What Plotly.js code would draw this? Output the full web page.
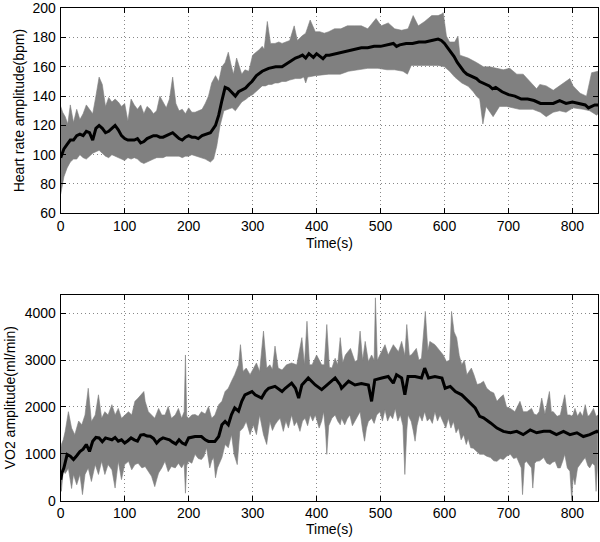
<!DOCTYPE html>
<html><head><meta charset="utf-8">
<script src="https://cdn.plot.ly/plotly-3.0.1.min.js"></script>
<style>html,body{margin:0;padding:0;background:#fff}#chart{width:600px;height:542px}</style>
</head><body><div id="chart"></div>
<script>
// ---- Heart rate (bpm): [time s, value]
var hrMean = [[0,98],[5,104],[10,107],[15,110],[20,110],[25,113],[30,114],[35,113],[40,116],[45,115],[50,110],[55,118],[60,120],[65,118],[70,115],[75,116],[80,118],[85,120],[90,117],[95,113],[100,111],[105,110],[110,110],[115,110],[120,111],[125,108],[130,109],[135,111],[140,112],[145,113],[150,113],[155,112],[160,112],[165,113],[170,114],[175,115],[180,113],[185,111],[190,110],[195,112],[200,113],[205,112],[210,112],[215,111],[221,113],[228,114],[234,115],[242,120],[247,127],[252,137],[257,146],[262,145],[268,142],[273,140],[278,143],[283,144],[289,145.5],[294,148],[299,150],[306,154],[315,157],[325,159],[336,160],[346,160],[357,163],[367,166],[373,167],[378,168],[383,166],[388,169],[395,166.5],[400,169],[410,165.6],[415,168],[420,168],[430,169],[440,170],[450,171],[460,172],[470,173],[480,173],[490,174],[500,174],[510,175],[520,176],[525,174],[530,175],[540,176],[550,176],[560,177],[570,177],[580,178],[590,179],[595,178],[600,176],[605,173],[610,170],[615,167],[620,163],[625,160],[630,157],[635,155],[640,154],[650,152],[655,150],[660,149],[670,147],[675,145],[680,146],[690,143],[700,141],[710,140],[720,138],[730,138],[740,137],[750,135],[760,135],[770,135],[780,137],[790,135],[800,136],[810,135],[820,134],[825,132],[830,133],[835,134],[840,134]];
var hrUpper = [[0,133],[3,129],[7,126],[11,121],[15,134],[20,122],[25,131],[30,124],[35,128],[40,134],[45,131],[50,128],[55,140],[60,153],[65,148],[70,133],[75,139],[80,136],[85,138],[90,136],[95,133],[100,135],[105,123],[110,138],[115,134],[120,131],[125,134],[130,128],[135,133],[140,131],[145,128],[150,130],[155,140],[160,136],[165,132],[170,138],[175,153],[180,135],[185,130],[190,131],[195,128],[200,132],[205,129],[210,129],[215,130],[221,131],[226,135],[231,140],[236,149],[242,154],[247,150],[252,160],[257,163],[262,170],[266,162],[270,155],[275,166],[280,160],[283,155],[288,158],[294,157],[300,168],[306,170],[311,172],[315,174],[318,172],[323,191],[328,176],[335,176],[341,177],[346,176],[352,177],[358,178],[365,188],[370,178],[377,181],[383,183],[390,192],[398,184],[405,184],[412,183],[419,184],[428,186],[438,186],[448,188],[459,188],[470,188],[480,186],[493,193],[501,188],[512,190],[522,186],[533,185],[543,186],[551,195],[559,188],[569,191],[580,195],[590,195],[595,196],[598,197],[603,181],[608,177],[616,177],[621,181],[624,168],[637,166],[650,163],[661,160],[671,160],[681,159],[692,158],[702,159],[713,155],[723,155],[734,150],[744,145],[749,148],[759,147],[770,144],[780,147],[791,150],[796,152],[801,147],[812,142],[822,140],[830,156],[840,157]];
var hrLower = [[0,73],[5,85],[10,91],[15,95],[20,97],[25,97],[30,100],[35,98],[40,97],[45,99],[50,101],[55,102],[60,103],[65,101],[70,99],[75,98],[80,100],[85,99],[90,98],[95,97],[100,96],[105,98],[110,97],[115,98],[120,97],[125,95],[130,94],[135,95],[140,96],[145,97],[150,98],[155,98],[160,98],[165,99],[170,99],[175,99],[180,99],[185,99],[190,98],[195,99],[200,99],[205,100],[210,99.5],[218,98],[226,97],[234,95],[239,97],[244,106],[249,119.6],[255,130],[262,131],[268,132],[273,130],[278,133],[283,136],[290,138],[295,140],[300,141],[305,143],[310,145],[315,147],[320,147],[325,148],[330,148],[335,149],[340,149],[346,150],[352,150],[358,151],[367,152],[375,152],[380,153],[383,149],[386,153],[398,154],[419,155],[437,155],[450,157],[465,158],[480,159],[496,159],[510,158],[522,158],[535,157],[542,155],[548,161],[570,161],[590,161],[600,160],[608,157],[616,153],[627,149],[637,146.7],[645,143],[650,140],[655,138],[660,121],[665,133],[676,126],[686,133],[697,133],[707,132],[717,131],[738,131],[750,129],[759,126],[770,129],[780,130],[790,129],[801,132],[817,131],[827,130],[838,127],[840,128]];

// ---- VO2 (ml/min): [time s, value]
var vo2Mean = [[0,450],[2,600],[5,700],[10,985],[15,950],[20,880],[25,960],[30,1050],[35,1100],[40,1200],[45,1050],[50,1270],[55,1350],[60,1340],[65,1260],[70,1340],[75,1320],[80,1300],[85,1350],[90,1270],[95,1300],[100,1230],[105,1280],[110,1340],[115,1300],[120,1270],[125,1400],[130,1410],[135,1380],[140,1375],[145,1330],[150,1230],[155,1300],[160,1340],[165,1320],[170,1300],[175,1250],[180,1210],[185,1300],[190,1230],[195,1200],[200,1340],[210,1370],[220,1370],[226,1300],[231,1265],[241,1265],[247,1370],[252,1620],[257,1690],[262,1620],[267,1840],[272,1980],[278,1910],[283,2120],[288,2260],[299,2330],[304,2260],[314,2190],[320,2330],[325,2400],[335,2440],[346,2330],[351,2400],[361,2510],[367,2400],[372,2190],[377,2470],[387,2620],[398,2470],[408,2370],[419,2510],[429,2620],[437,2470],[439,2400],[450,2550],[460,2470],[470,2500],[481,2470],[486,2120],[491,2580],[502,2620],[512,2650],[520,2510],[525,2690],[533,2620],[538,2260],[543,2650],[554,2650],[564,2620],[569,2830],[575,2620],[585,2650],[596,2620],[601,2400],[609,2440],[617,2330],[627,2260],[637,2120],[648,1980],[655,1800],[661,1770],[672,1660],[682,1550],[692,1480],[703,1450],[713,1480],[723,1410],[734,1510],[744,1450],[755,1480],[765,1480],[775,1410],[786,1480],[796,1410],[807,1450],[817,1370],[827,1410],[838,1480],[840,1450]];
var vo2Upper = [[0,1100],[1,1200],[4,1300],[7,1480],[12,1900],[17,1550],[22,1410],[28,1700],[33,1620],[38,1830],[43,2400],[48,1690],[54,1830],[59,2260],[64,1760],[69,1900],[74,1830],[80,2050],[85,1830],[90,1970],[95,1760],[100,1830],[106,1900],[111,1830],[116,2120],[121,2190],[127,2300],[130,2330],[132,2120],[137,1900],[142,1830],[147,1760],[153,1970],[158,1830],[163,1830],[168,2010],[173,1760],[179,1830],[184,1970],[189,1760],[193,1900],[195,3110],[197,1800],[200,1760],[205,1830],[210,1840],[215,1800],[220,1900],[226,1850],[231,2010],[236,1760],[241,1830],[247,2050],[252,2120],[257,2330],[262,2400],[267,2550],[272,2690],[278,2900],[281,3330],[285,2760],[290,2830],[296,2690],[301,2830],[306,2940],[311,2760],[317,3620],[322,2830],[327,2900],[331,2800],[335,3300],[340,2830],[346,2790],[353,2900],[361,2940],[369,2900],[377,3480],[381,2900],[385,3830],[389,2900],[393,2900],[400,3110],[408,2900],[412,2900],[416,3760],[420,2850],[424,2830],[429,3040],[433,2900],[437,3480],[441,2950],[445,3110],[453,3250],[460,2970],[464,3000],[468,3620],[472,3000],[476,3400],[481,2970],[486,3110],[490,3000],[492,4330],[495,3000],[499,3110],[507,3330],[512,3110],[520,3330],[528,3180],[533,3400],[538,3100],[541,3760],[545,3100],[548,3110],[556,3250],[560,3000],[564,3040],[570,4040],[574,3200],[577,3400],[585,3330],[593,3180],[598,3110],[603,2970],[608,3000],[611,4040],[615,3600],[619,3480],[623,3100],[627,2900],[631,3000],[635,2690],[642,2830],[646,2690],[651,2480],[656,2500],[661,2550],[666,2400],[672,2330],[677,2300],[682,2120],[687,2200],[692,2260],[697,2000],[703,1970],[710,1900],[714,2000],[718,2120],[723,1900],[729,1900],[736,1970],[740,1850],[744,1830],[748,1900],[752,2190],[757,1850],[764,2330],[767,1900],[770,1900],[776,1800],[781,1830],[788,2260],[792,1830],[796,1830],[800,1800],[804,1970],[808,1800],[812,1900],[816,1800],[820,2050],[824,1800],[827,1830],[833,1970],[837,1800],[840,1830]];
var vo2Lower = [[0,270],[1,200],[4,650],[7,580],[12,690],[17,260],[20,560],[25,340],[30,560],[34,130],[38,560],[43,700],[48,410],[54,770],[59,560],[64,840],[69,560],[74,770],[80,660],[85,270],[90,840],[95,450],[100,770],[106,840],[111,660],[116,770],[121,800],[127,700],[132,730],[137,620],[142,520],[147,300],[150,450],[153,590],[158,700],[163,840],[168,620],[173,730],[179,700],[184,800],[189,700],[193,800],[195,160],[197,750],[200,840],[205,800],[210,990],[215,900],[220,880],[224,950],[228,1130],[233,700],[236,850],[239,920],[242,490],[245,700],[247,770],[252,920],[257,1200],[262,1130],[267,1410],[271,990],[276,770],[280,1480],[285,1550],[290,1690],[296,1410],[301,1620],[306,1410],[311,1830],[317,1410],[322,1200],[327,1690],[331,1500],[335,1620],[339,1700],[343,1760],[348,1480],[352,1700],[356,1550],[361,1830],[365,1600],[369,1690],[374,1480],[378,1700],[382,1760],[386,1600],[390,1830],[394,1700],[398,1830],[404,1550],[408,1700],[411,1900],[414,1500],[416,990],[419,1600],[424,1760],[429,1830],[433,1700],[437,1620],[439,1760],[444,1620],[448,1750],[452,1830],[456,1600],[460,1690],[464,1800],[468,1900],[472,1500],[475,1270],[478,1550],[481,1690],[486,1760],[490,1650],[494,1830],[499,1900],[503,1700],[507,1940],[511,1700],[515,1830],[519,1750],[523,1970],[527,1700],[531,1830],[535,1600],[538,560],[541,1500],[543,1830],[548,1690],[551,1500],[554,1270],[557,1600],[561,1830],[565,1700],[569,1900],[573,1700],[577,1760],[581,1650],[585,1900],[589,1700],[593,1830],[598,1690],[602,1550],[606,1760],[610,1550],[614,1690],[618,1450],[622,1550],[626,1300],[630,1410],[634,1200],[637,1330],[641,1130],[645,1120],[650,1060],[655,990],[661,990],[666,950],[672,920],[677,850],[682,840],[687,900],[692,880],[697,950],[703,990],[708,900],[713,920],[717,800],[720,700],[722,130],[725,800],[728,840],[733,750],[736,700],[738,270],[741,800],[744,840],[749,850],[755,920],[760,800],[765,770],[769,820],[773,840],[777,700],[781,700],[785,850],[788,990],[792,700],[796,630],[799,0],[801,500],[804,340],[808,700],[812,770],[816,850],[820,920],[824,750],[827,700],[831,800],[835,750],[837,200],[839,700],[840,900]];

var xTicks = [0,100,200,300,400,500,600,700,800];
var hrTicks = [60,80,100,120,140,160,180,200];
var vo2Ticks = [0,1000,2000,3000,4000];

function col(a,i){return a.map(function(p){return p[i];});}
function band(up,lo,xa,ya){
  var rl = lo.slice().reverse();
  return {x: col(up,0).concat(col(rl,0)), y: col(up,1).concat(col(rl,1)),
    type:'scatter', mode:'lines', fill:'toself', fillcolor:'#808080',
    line:{color:'#808080', width:0.6}, xaxis:xa, yaxis:ya, hoverinfo:'skip'};
}
function meanLine(m,xa,ya){
  return {x: col(m,0), y: col(m,1), type:'scatter', mode:'lines',
    line:{color:'#000000', width:3}, xaxis:xa, yaxis:ya};
}
var F = 'Liberation Sans, Arial, Helvetica, sans-serif';
var FS = 14;
function xax(anchor){
  return {domain:[0.1012,0.9967], range:[0,840], tickvals:xTicks, ticks:'inside', ticklen:5,
    tickcolor:'#000', showline:true, linecolor:'#000', linewidth:1, mirror:'ticks',
    showgrid:true, gridcolor:'#888888', griddash:'1px,3px', gridwidth:1, zeroline:false,
    anchor:anchor, tickfont:{family:F, size:FS, color:'#000'}, ticklabelstandoff:0,
    ticklabeloverflow:'allow'};
}
function yax(anchor, dom, rng, tv){
  return {domain:dom, range:rng, tickvals:tv, ticks:'inside', ticklen:5,
    tickcolor:'#000', showline:true, linecolor:'#000', linewidth:1, mirror:'ticks',
    showgrid:true, gridcolor:'#888888', griddash:'1px,3px', gridwidth:1, zeroline:false,
    anchor:anchor, tickfont:{family:F, size:FS, color:'#000'}, ticklabelstandoff:1,
    ticklabeloverflow:'allow'};
}
var layout = {
  width:600, height:542, margin:{l:0,r:0,t:0,b:0}, showlegend:false,
  paper_bgcolor:'#fff', plot_bgcolor:'#fff', font:{family:F, size:FS, color:'#000'},
  xaxis: xax('y'), yaxis: yax('x',[0.6065,0.9847],[60,200],hrTicks),
  xaxis2: xax('y2'), yaxis2: yax('x2',[0.0762,0.4557],[0,4390],vo2Ticks),
  annotations:[
    {text:'Time(s)', xref:'paper', yref:'paper', x:0.549, y:1-243/542, xanchor:'center', yanchor:'middle', showarrow:false, font:{family:F,size:FS}},
    {text:'Time(s)', xref:'paper', yref:'paper', x:0.549, y:1-529/542, xanchor:'center', yanchor:'middle', showarrow:false, font:{family:F,size:FS}},
    {text:'Heart rate amplitude(bpm)', xref:'paper', yref:'paper', x:18.5/600, y:1-110.8/542, xanchor:'center', yanchor:'middle', textangle:-90, showarrow:false, font:{family:F,size:FS}},
    {text:'VO2 amplitude(ml/min)', xref:'paper', yref:'paper', x:9.5/600, y:1-397.8/542, xanchor:'center', yanchor:'middle', textangle:-90, showarrow:false, font:{family:F,size:FS}}
  ]
};
var data = [
  band(hrUpper,hrLower,'x','y'), meanLine(hrMean,'x','y'),
  band(vo2Upper,vo2Lower,'x2','y2'), meanLine(vo2Mean,'x2','y2')
];
Plotly.newPlot('chart', data, layout, {displayModeBar:false, staticPlot:true});
</script></body></html>
